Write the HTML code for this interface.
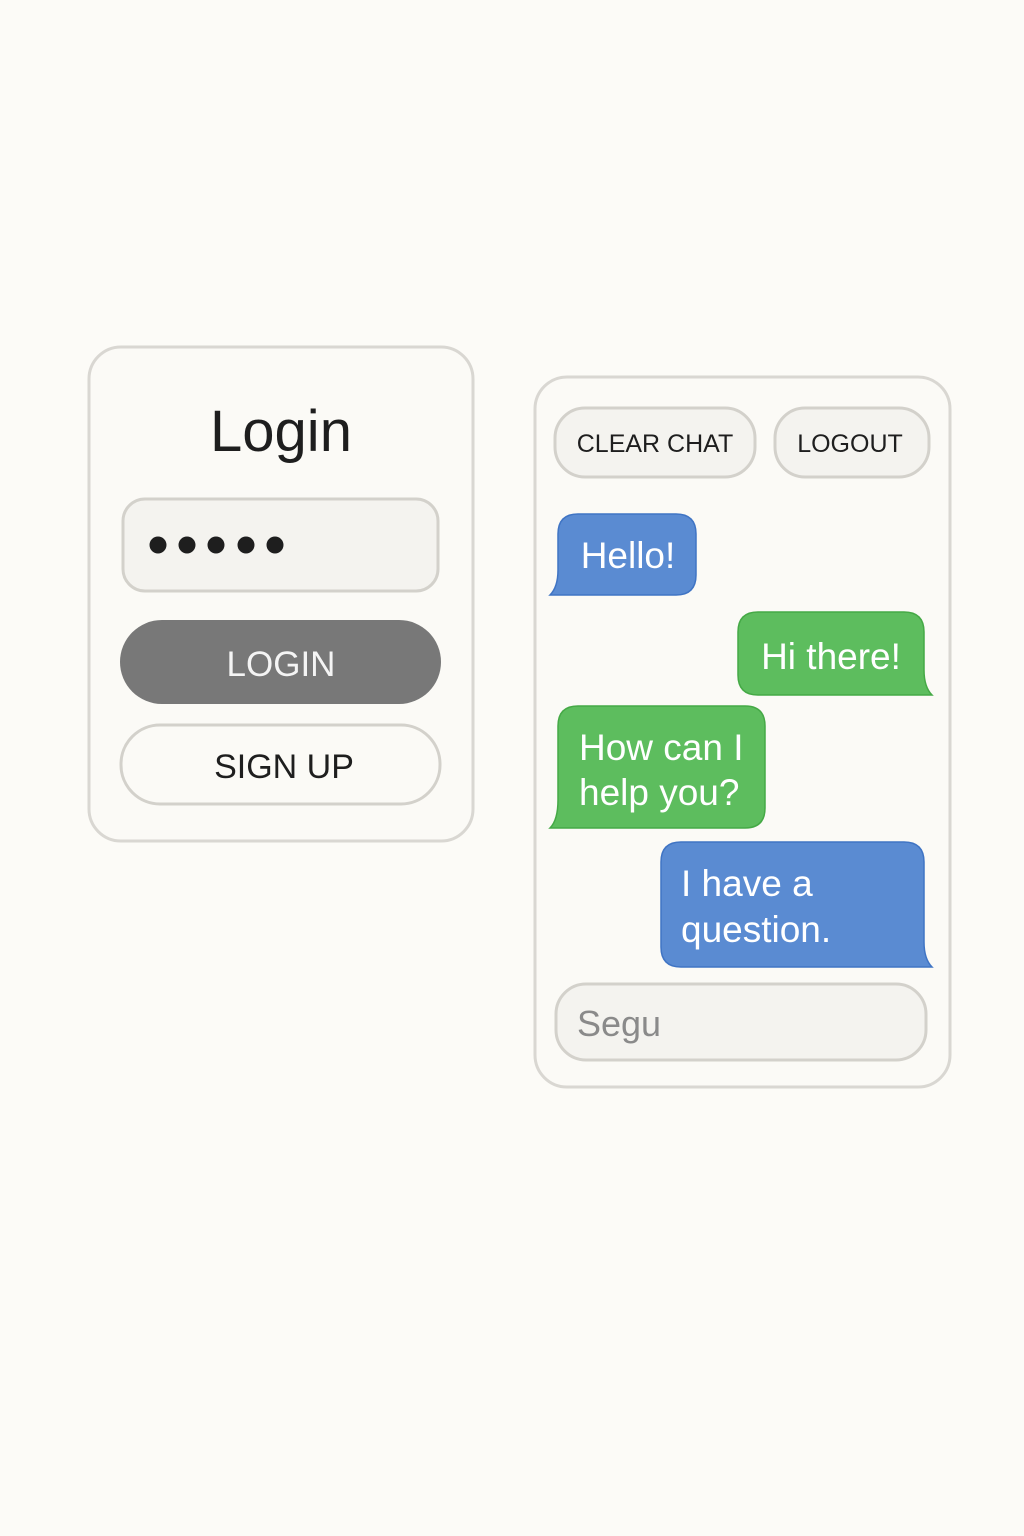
<!DOCTYPE html>
<html><head><meta charset="utf-8"><style>
html,body{margin:0;padding:0;background:#fcfbf7;}
svg{display:block;font-family:"Liberation Sans","DejaVu Sans",sans-serif;}
</style></head><body>
<svg width="1024" height="1536" viewBox="0 0 1024 1536" xmlns="http://www.w3.org/2000/svg">
<rect width="1024" height="1536" fill="#fcfbf7"/>
<!-- Login panel -->
<rect x="89" y="347" width="384" height="494" rx="32" fill="#fbfaf6" stroke="#d9d7d2" stroke-width="3"/>
<text x="281" y="451" text-anchor="middle" font-size="58" fill="#1e1e1e">Login</text>
<rect x="123" y="499" width="315" height="92" rx="22" fill="#f4f3ef" stroke="#d3d1cb" stroke-width="3"/>
<g fill="#1e1e1e"><circle cx="158" cy="545" r="8.5"/><circle cx="187" cy="545" r="8.5"/><circle cx="216" cy="545" r="8.5"/><circle cx="246" cy="545" r="8.5"/><circle cx="275" cy="545" r="8.5"/></g>
<rect x="120" y="620" width="321" height="84" rx="42" fill="#787878"/>
<text x="281" y="676" text-anchor="middle" font-size="35" fill="#f4f4f4">LOGIN</text>
<rect x="121" y="725" width="319" height="79" rx="39" fill="#fbfaf6" stroke="#d3d1cb" stroke-width="3"/>
<text x="284" y="778" text-anchor="middle" font-size="34" fill="#1e1e1e">SIGN UP</text>
<!-- Chat panel -->
<rect x="535" y="377" width="415" height="710" rx="32" fill="#fbfaf6" stroke="#d9d7d2" stroke-width="3"/>
<rect x="555" y="408" width="200" height="69" rx="30" fill="#f4f3ef" stroke="#d3d1cb" stroke-width="3"/>
<text x="655" y="452" text-anchor="middle" font-size="25" fill="#1e1e1e">CLEAR CHAT</text>
<rect x="775" y="408" width="154" height="69" rx="30" fill="#f4f3ef" stroke="#d3d1cb" stroke-width="3"/>
<text x="850" y="452" text-anchor="middle" font-size="25" fill="#1e1e1e">LOGOUT</text>
<!-- Hello -->
<path d="M578,514 H676 Q696,514 696,534 V575 Q696,595 676,595 H550 Q558,587 558,570 V534 Q558,514 578,514 Z" fill="#5a8bd2" stroke="#3f74c4" stroke-width="1.5"/>
<text x="628" y="568" text-anchor="middle" font-size="37" fill="#fff">Hello!</text>
<!-- Hi there -->
<path d="M758,612 H904 Q924,612 924,632 V670 Q924,687 932,695 H758 Q738,695 738,675 V632 Q738,612 758,612 Z" fill="#5dbd5e" stroke="#45a946" stroke-width="1.5"/>
<text x="831" y="669" text-anchor="middle" font-size="37" fill="#fff">Hi there!</text>
<!-- How can I -->
<path d="M578,706 H745 Q765,706 765,726 V808 Q765,828 745,828 H550 Q558,820 558,800 V726 Q558,706 578,706 Z" fill="#5dbd5e" stroke="#45a946" stroke-width="1.5"/>
<text x="579" y="760" font-size="37" fill="#fff">How can I</text>
<text x="579" y="805" font-size="37" fill="#fff">help you?</text>
<!-- I have a question -->
<path d="M681,842 H904 Q924,842 924,862 V942 Q924,959 932,967 H681 Q661,967 661,947 V862 Q661,842 681,842 Z" fill="#5a8bd2" stroke="#3f74c4" stroke-width="1.5"/>
<text x="681" y="896" font-size="37" fill="#fff">I have a</text>
<text x="681" y="942" font-size="37" fill="#fff">question.</text>
<!-- input -->
<rect x="556" y="984" width="370" height="76" rx="30" fill="#f4f3ef" stroke="#d3d1cb" stroke-width="3"/>
<text x="577" y="1036" font-size="36" fill="#8a8a8a">Segu</text>
</svg>
</body></html>
